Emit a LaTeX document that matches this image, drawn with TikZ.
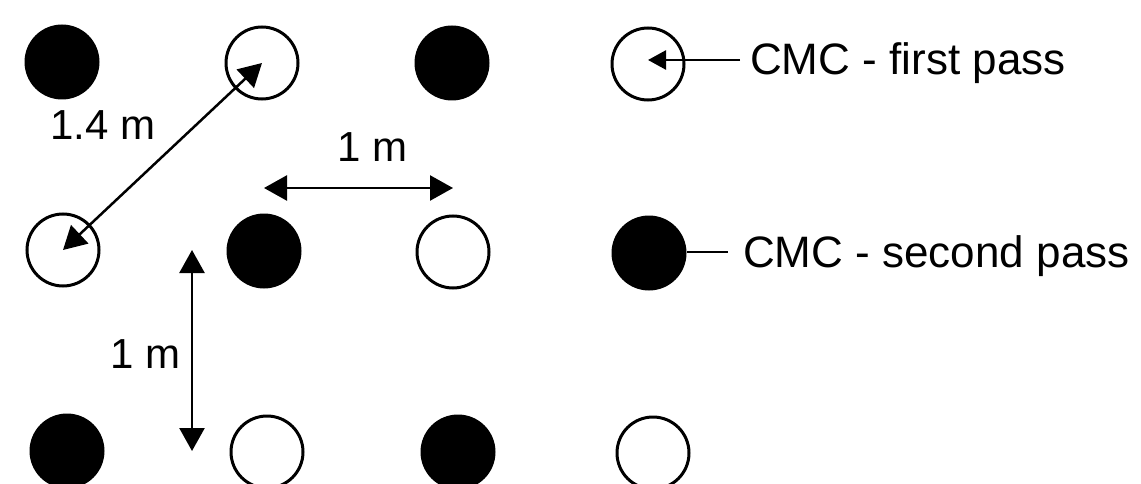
\documentclass[tikz,border=0pt]{standalone}
\usepackage{fontspec}
\setmainfont{Liberation Sans}
\usetikzlibrary{arrows.meta}
\begin{document}
\begin{tikzpicture}[x=1pt,y=-1pt,
  pile/.style={circle,inner sep=0pt,minimum size=72pt},
  full/.style={pile,fill=black,minimum size=75pt},
  hollow/.style={pile,draw=black,line width=3pt,fill=white},
  dim/.style={line width=2.5pt,{Triangle[length=23pt,width=25pt]}-{Triangle[length=23pt,width=25pt]}},
  lead/.style={line width=2.5pt},
  leadarrow/.style={lead,-{Triangle[length=18pt,width=19pt]}},
  lbl/.style={font=\fontsize{42}{48}\selectfont,inner sep=0pt,anchor=base west},
  leg/.style={font=\fontsize{44}{50}\selectfont,inner sep=0pt,anchor=base west}]
\clip (0,0) rectangle (1141,484);
\useasboundingbox (0,0) rectangle (1141,484);
% row 1
\node[full]   (c11) at (62,62)  {};
\node[hollow] (c12) at (262,63) {};
\node[full]   (c13) at (452,63) {};
\node[hollow] (c14) at (648,64) {};
% row 2
\node[hollow] (c21) at (63,250)  {};
\node[full]   (c22) at (264,251) {};
\node[hollow] (c23) at (453,252) {};
\node[full]   (c24) at (649,253) {};
% row 3
\node[full]   (c31) at (67,451)  {};
\node[hollow] (c32) at (267,452) {};
\node[full]   (c33) at (458,452) {};
\node[hollow] (c34) at (653,453) {};
% dimension helpers
\coordinate (hy) at (0,188);
\coordinate (vx) at (192,0);
% dimensions
\draw[dim] (c21.center) -- (c12.center);
\draw[dim] (c22.center |- hy) -- (c23.center |- hy);
\draw[dim] (vx |- c21.center) -- (vx |- c31.center);
\node[lbl] (d1) at (50,140)  {1.4 m};
\node[lbl] (d2) at (337,162) {1 m};
\node[lbl] (d3) at (110,368) {1 m};
% legend
\node[leg] (t1) at (750,75)  {CMC - first pass};
\node[leg] (t2) at (743,267) {CMC - second pass};
\coordinate (l1) at (740,60);
\coordinate (l2) at (728,252);
\draw[leadarrow] (l1) -- (l1 -| c14.center);
\draw[lead] (c24.east |- l2) -- (l2);
\end{tikzpicture}
\end{document}
